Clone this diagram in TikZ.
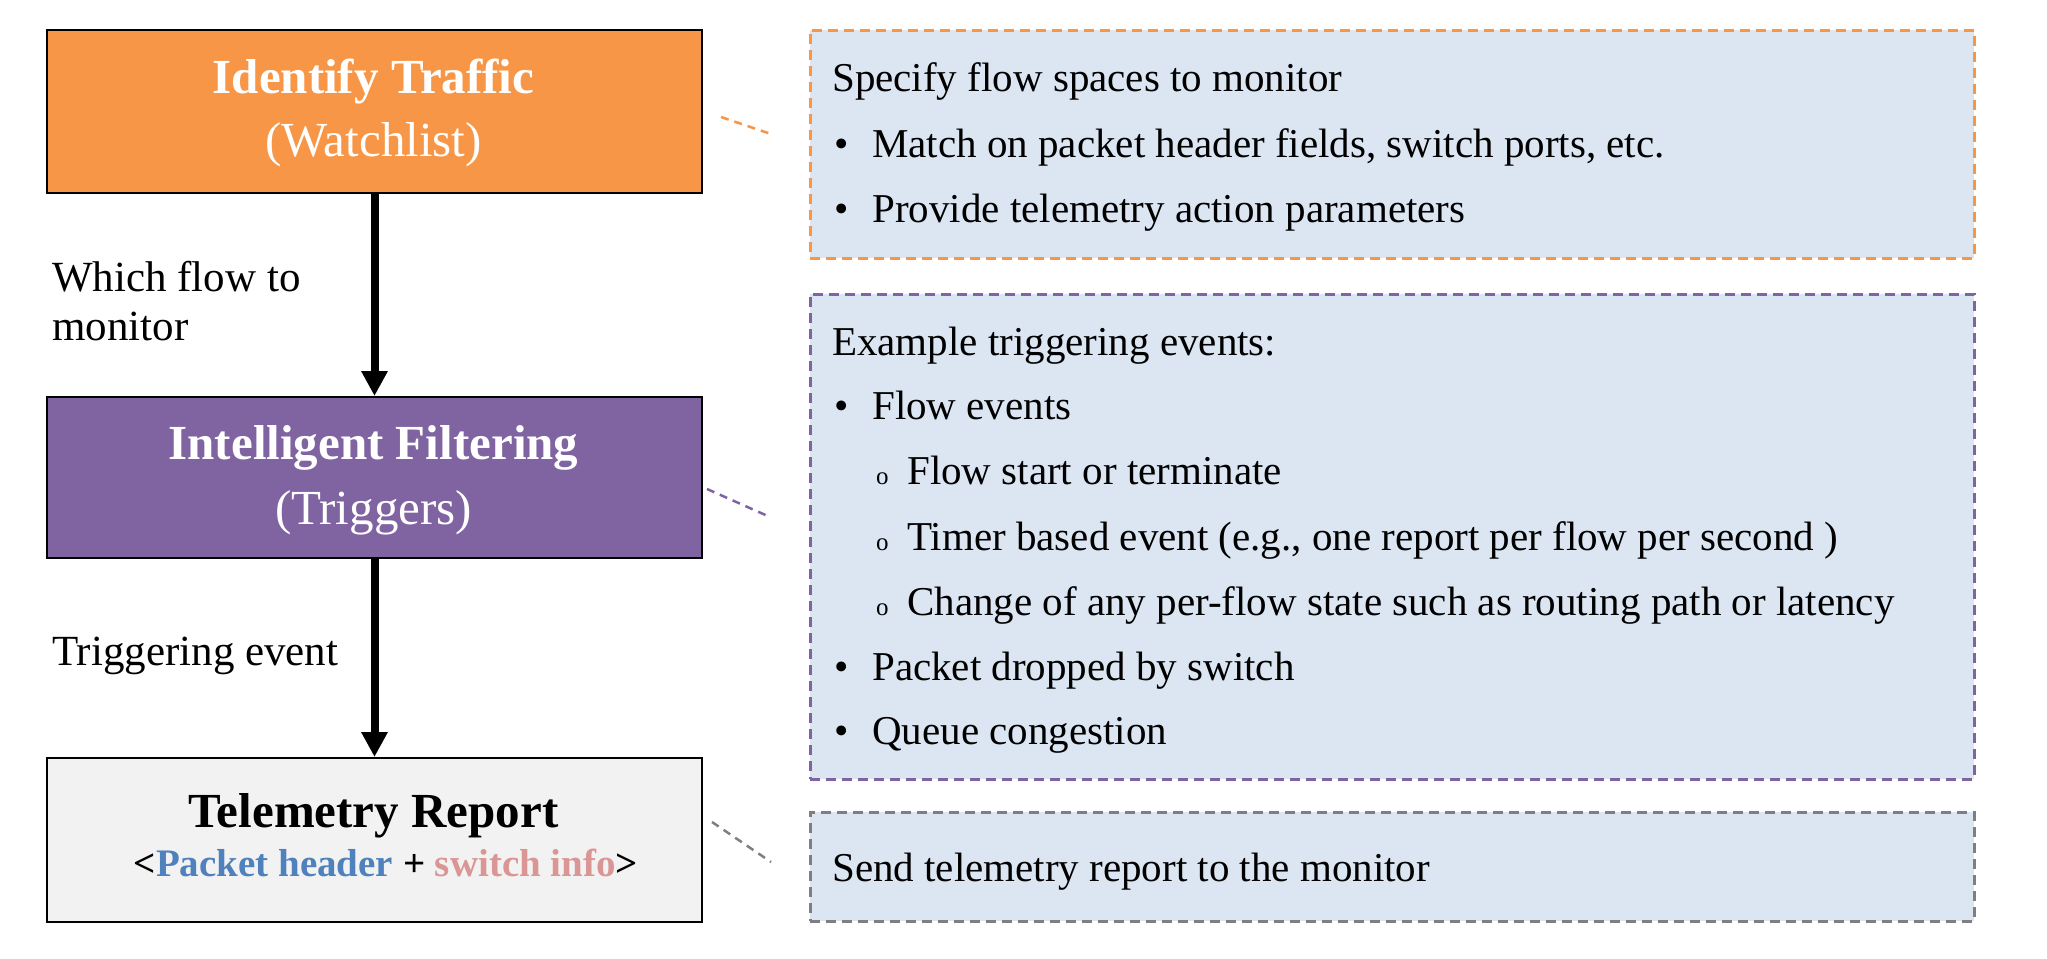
\documentclass[tikz,border=0pt]{standalone}
\usepackage{fontspec}
\setmainfont{Liberation Serif}
\usetikzlibrary{arrows.meta}
\definecolor{orangeF}{HTML}{F79646}
\definecolor{purpleF}{HTML}{8064A2}
\definecolor{grayF}{HTML}{F2F2F2}
\definecolor{blueBG}{HTML}{DCE6F2}
\definecolor{pktblue}{HTML}{4F81BD}
\definecolor{swpink}{HTML}{DA9694}
\definecolor{dashgray}{HTML}{7F7F7F}
\begin{document}
\begin{tikzpicture}[x=1pt,y=-1pt,
  mainbox/.style={draw=black,line width=2pt,minimum width=655pt,anchor=north west,inner sep=0pt},
  sidebox/.style={line width=2.75pt,dash pattern=on 10pt off 6pt,fill=blueBG,minimum width=1164pt,anchor=north west,inner sep=0pt},
  title/.style={font=\fontsize{49}{58}\selectfont\bfseries,anchor=base,inner sep=0pt},
  subtitle/.style={font=\fontsize{49}{58}\selectfont,anchor=base,inner sep=0pt},
  lbl/.style={font=\fontsize{43}{50}\selectfont,anchor=base west,inner sep=0pt},
  txt/.style={font=\fontsize{41}{48}\selectfont,anchor=base west,inner sep=0pt},
  sub/.style={font=\fontsize{25}{28}\selectfont,anchor=base west,inner sep=0pt},
  flowarrow/.style={line width=8pt,-{Triangle[length=25pt,width=25pt]}},
  link/.style={line width=2.5pt,dash pattern=on 8pt off 6pt}
]
\useasboundingbox (0,0) rectangle (2047,958);

% left boxes
\node[mainbox,fill=orangeF,minimum height=163pt] (ident) at (46,29) {};
\node[mainbox,fill=purpleF,minimum height=161pt] (filt) at (46,396) {};
\node[mainbox,fill=grayF,minimum height=164pt] (report) at (46,757) {};

\node[title,text=white] (identA) at (373.5,93) {Identify Traffic};
\node[subtitle,text=white] (identB) at (373.5,156) {(Watchlist)};
\node[title,text=white] (filtA) at (373.5,459) {Intelligent Filtering};
\node[subtitle,text=white] (filtB) at (373.5,524) {(Triggers)};
\node[title] (repA) at (373.5,827) {Telemetry Report};
\node[font=\fontsize{39}{46}\selectfont\bfseries,anchor=base,inner sep=0pt] (repB) at (386,876)
  {<\textcolor{pktblue}{Packet header} + \textcolor{swpink}{switch info}>};

% arrows
\draw[flowarrow] (ident.south) -- (filt.north);
\draw[flowarrow] (filt.south) -- (report.north);

\node[lbl] (l1a) at (52,291) {Which flow to};
\node[lbl] (l1b) at (52,340) {monitor};
\node[lbl] (l2) at (52,665) {Triggering event};

% right boxes
\node[sidebox,draw=orangeF,minimum height=228pt] (watchbox) at (809,29) {};
\node[sidebox,draw=purpleF,minimum height=485pt] (trigbox) at (809,293) {};
\node[sidebox,draw=dashgray,minimum height=109pt] (sendbox) at (809,811) {};

% connectors
\coordinate (c1a) at (721,117); \coordinate (c1b) at (771,134);
\coordinate (c2a) at (707,489); \coordinate (c2b) at (770,517);
\coordinate (c3a) at (712,822); \coordinate (c3b) at (771,862);
\draw[link,orangeF] (c1a) -- (c1b);
\draw[link,purpleF] (c2a) -- (c2b);
\draw[link,dashgray] (c3a) -- (c3b);

% orange box text
\node[txt] (w0) at (832,91) {Specify flow spaces to monitor};
\node[txt] (w1b) at (834,157) {•};
\node[txt] (w1) at (872,157) {Match on packet header fields, switch ports, etc.};
\node[txt] (w2b) at (834,222) {•};
\node[txt] (w2) at (872,222) {Provide telemetry action parameters};

% purple box text
\node[txt] (p0) at (832,355) {Example triggering events:};
\node[txt] (p1b) at (834,419) {•};
\node[txt] (p1) at (872,419) {Flow events};
\node[sub] (p2b) at (876,484) {o};
\node[txt] (p2) at (907,484) {Flow start or terminate};
\node[sub] (p3b) at (876,550) {o};
\node[txt] (p3) at (907,550) {Timer based event (e.g., one report per flow per second )};
\node[sub] (p4b) at (876,615) {o};
\node[txt] (p4) at (907,615) {Change of any per-flow state such as routing path or latency};
\node[txt] (p5b) at (834,680) {•};
\node[txt] (p5) at (872,680) {Packet dropped by switch};
\node[txt] (p6b) at (834,744) {•};
\node[txt] (p6) at (872,744) {Queue congestion};

% gray box text
\node[txt] (s0) at (832,881) {Send telemetry report to the monitor};
\end{tikzpicture}
\end{document}
